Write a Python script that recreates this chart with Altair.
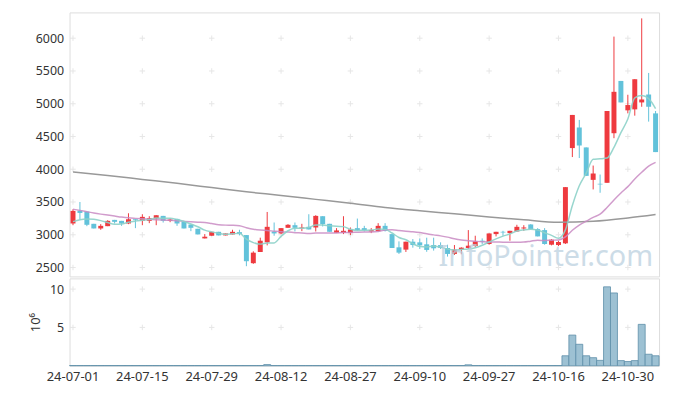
import altair as alt
import pandas as pd

# ---- trading days (Korea, 2024) ----
jul = [1, 2, 3, 4, 5, 8, 9, 10, 11, 12, 15, 16, 17, 18, 19, 22, 23, 24, 25, 26, 29, 30, 31]
aug = [1, 2, 5, 6, 7, 8, 9, 12, 13, 14, 16, 19, 20, 21, 22, 23, 26, 27, 28, 29, 30]
sep = [2, 3, 4, 5, 6, 9, 10, 11, 12, 13, 19, 20, 23, 24, 25, 26, 27, 30]
octo = [2, 4, 7, 8, 10, 11, 14, 15, 16, 17, 18, 21, 22, 23, 24, 25, 28, 29, 30, 31]
nov = [1, 4, 5]
dates = ([f"24-07-{d:02d}" for d in jul] + [f"24-08-{d:02d}" for d in aug]
         + [f"24-09-{d:02d}" for d in sep] + [f"24-10-{d:02d}" for d in octo]
         + [f"24-11-{d:02d}" for d in nov])
label_dates = ["24-07-01", "24-07-15", "24-07-29", "24-08-12", "24-08-27",
               "24-09-10", "24-09-27", "24-10-16", "24-10-30"]

opens = [3172, 3369, 3354, 3167, 3096, 3131, 3227, 3212, 3172, 3237,
         3212, 3212, 3247, 3288, 3212, 3242, 3202, 3156, 3091, 2944,
         2985, 3045, 2990, 3005, 3040, 2995, 2566, 2737, 2884, 3050,
         3020, 3106, 3146, 3096, 3121, 3111, 3283, 3167, 3030, 3030,
         3025, 3101, 3101, 3050, 3055, 3136, 3010, 2808, 2773, 2894,
         2884, 2854, 2843, 2843, 2798, 2707, 2773, 2798, 2828, 2909,
         2859, 3010, 3045, 3025, 3050, 3096, 3157, 3086, 3071, 2848,
         2843, 2869, 4323, 4636, 4333, 3838, 3778, 3793, 4550, 5348,
         4899, 4914, 5020, 5141, 4853]
highs = [3389, 3500, 3354, 3167, 3162, 3222, 3227, 3212, 3328, 3237,
         3313, 3283, 3298, 3288, 3252, 3242, 3202, 3156, 3091, 3010,
         3045, 3045, 3020, 3076, 3076, 2995, 2747, 2955, 3348, 3187,
         3101, 3162, 3187, 3167, 3313, 3298, 3283, 3167, 3101, 3283,
         3111, 3247, 3136, 3101, 3177, 3177, 3010, 2899, 2894, 2934,
         2944, 2955, 2955, 2884, 2848, 2843, 2808, 3071, 2985, 2944,
         3020, 3045, 3060, 3060, 3152, 3146, 3162, 3101, 3101, 2934,
         2909, 3727, 4829, 4753, 4333, 4056, 3919, 4889, 6025, 5348,
         5137, 5374, 6303, 5470, 4889]
lows = [3146, 3237, 3131, 3096, 3076, 3131, 3172, 3136, 3162, 3101,
        3146, 3177, 3146, 3187, 3192, 3136, 3096, 3055, 3005, 2944,
        2985, 2990, 2990, 3005, 2990, 2520, 2556, 2737, 2838, 2985,
        3010, 3106, 3050, 3055, 3081, 3050, 3126, 3045, 3030, 3010,
        2995, 3060, 3050, 3025, 3050, 3050, 2798, 2707, 2737, 2803,
        2783, 2740, 2758, 2783, 2667, 2692, 2702, 2783, 2808, 2859,
        2848, 2975, 2985, 2909, 3045, 3060, 3081, 2975, 2848, 2838,
        2828, 2859, 4186, 4171, 3899, 3692, 3641, 3793, 4474, 5020,
        4853, 4818, 4954, 4727, 4262]
closes = [3364, 3333, 3152, 3096, 3136, 3212, 3197, 3172, 3237, 3222,
          3273, 3252, 3298, 3212, 3232, 3172, 3096, 3106, 3005, 2970,
          3045, 2990, 3020, 3045, 3010, 2596, 2727, 2909, 3121, 3020,
          3101, 3152, 3106, 3111, 3081, 3288, 3162, 3045, 3066, 3060,
          3081, 3071, 3071, 3071, 3136, 3060, 2798, 2727, 2894, 2843,
          2838, 2768, 2793, 2798, 2707, 2773, 2803, 2833, 2899, 2894,
          3020, 3045, 3035, 3060, 3121, 3111, 3086, 2975, 2859, 2924,
          2889, 3727, 4829, 4364, 3899, 3935, 3768, 4889, 5182, 5020,
          4980, 5374, 5065, 4954, 4262]
ma5 = [3200, 3230, 3240, 3235, 3216, 3186, 3159, 3163, 3191, 3208,
       3220, 3231, 3256, 3251, 3253, 3233, 3202, 3164, 3122, 3070,
       3044, 3023, 3006, 3014, 3022, 2932, 2880, 2857, 2873, 2875,
       2976, 3061, 3100, 3098, 3110, 3148, 3150, 3137, 3128, 3124,
       3083, 3065, 3070, 3071, 3086, 3082, 3027, 2958, 2923, 2864,
       2820, 2814, 2827, 2808, 2781, 2768, 2775, 2783, 2803, 2840,
       2890, 2938, 2979, 3011, 3056, 3074, 3083, 3071, 3030, 2991,
       2947, 3075, 3446, 3747, 3942, 4151, 4159, 4171, 4335, 4559,
       4768, 5089, 5124, 5079, 4927]
ma20 = [3390, 3372, 3352, 3332, 3315, 3300, 3285, 3270, 3258, 3250,
        3243, 3237, 3230, 3225, 3220, 3213, 3205, 3198, 3192, 3187,
        3171, 3154, 3147, 3145, 3138, 3108, 3084, 3071, 3065, 3055,
        3046, 3041, 3032, 3027, 3019, 3025, 3028, 3025, 3028, 3033,
        3035, 3039, 3041, 3042, 3049, 3072, 3076, 3066, 3055, 3046,
        3033, 3014, 2998, 2983, 2964, 2938, 2920, 2910, 2901, 2893,
        2890, 2889, 2887, 2886, 2885, 2888, 2902, 2915, 2913, 2917,
        2920, 2968, 3069, 3148, 3207, 3265, 3314, 3416, 3531, 3637,
        3735, 3851, 3953, 4048, 4105]
ma_long_dates = ["24-07-01", "24-07-08", "24-07-15", "24-07-22", "24-07-29", "24-08-05",
                 "24-08-12", "24-08-20", "24-08-27", "24-09-03", "24-09-10", "24-09-20",
                 "24-09-27", "24-10-08", "24-10-16", "24-10-23", "24-10-30", "24-11-05"]
ma_long = [3960, 3905, 3845, 3785, 3720, 3655, 3600, 3540, 3480, 3415, 3365, 3320,
           3272, 3228, 3190, 3205, 3255, 3308]
volume_m = [0.03] * 28 + [0.15] + [0.03] * 28 + [0.12] + [0.03] * 13 + \
    [1.3, 4.0, 2.8, 1.3, 1.05, 0.7, 10.3, 9.5, 0.67, 0.55, 0.67, 5.4, 1.5, 1.3]
price_ticks = [2500, 3000, 3500, 4000, 4500, 5000, 5500, 6000]
vol_ticks = [5, 10]

RED = "#ee3a3f"
BLUE = "#62c2da"
FONT = "Noto Sans"
W = 594
EXT = 56

df = pd.DataFrame({"date": dates, "open": opens, "high": highs, "low": lows,
                   "close": closes, "ma5": ma5, "ma20": ma20, "vol": volume_m})
df["dir"] = ["up" if c >= o else "down" for o, c in zip(opens, closes)]
long_df = pd.DataFrame({"date": ma_long_dates, "v": ma_long})
cross_p = pd.DataFrame([(d, t) for d in label_dates for t in price_ticks], columns=["date", "v"])
cross_v = pd.DataFrame([(d, t) for d in label_dates for t in vol_ticks], columns=["date", "v"])
wm = pd.DataFrame({"t": ["InfoPointer.com"]})

xscale = alt.Scale(domain=dates, paddingInner=0, paddingOuter=0)
x_noaxis = alt.X("date:O", scale=xscale, axis=None)
pscale = alt.Scale(domain=[2364, 6394], nice=False, zero=False)
color = alt.Color("dir:N", scale=alt.Scale(domain=["up", "down"], range=[RED, BLUE]), legend=None)
plus = "M-1,0L1,0M0,-1L0,1"

py_axis = alt.Axis(values=price_ticks, format="d", grid=False, ticks=False, domain=False,
                   labelPadding=6, labelFont=FONT, labelFontSize=12.5, labelColor="#333",
                   labelOverlap=False, title=None, minExtent=EXT, maxExtent=EXT)

crosses = alt.Chart(cross_p).mark_point(shape=plus, size=30, color="#dddddd",
                                        strokeWidth=1, filled=False).encode(
    x=x_noaxis, y=alt.Y("v:Q", scale=pscale, axis=py_axis))

base = alt.Chart(df)
wick = base.mark_rule(strokeWidth=1).encode(
    x=x_noaxis, y=alt.Y("low:Q", scale=pscale, axis=py_axis), y2="high:Q", color=color)
body = base.mark_bar(size=5).encode(
    x=x_noaxis, y=alt.Y("open:Q", scale=pscale, axis=py_axis), y2="close:Q", color=color)
l5 = base.mark_line(color="#8dd2c9", strokeWidth=1.5, opacity=0.9, interpolate="monotone").encode(
    x=x_noaxis, y=alt.Y("ma5:Q", scale=pscale, axis=py_axis))
l20 = base.mark_line(color="#c98bc3", strokeWidth=1.5, opacity=0.85, interpolate="monotone").encode(
    x=x_noaxis, y=alt.Y("ma20:Q", scale=pscale, axis=py_axis))
llong = alt.Chart(long_df).mark_line(color="#999999", strokeWidth=1.5, interpolate="monotone").encode(
    x=x_noaxis, y=alt.Y("v:Q", scale=pscale, axis=py_axis))
water = alt.Chart(wm).mark_text(font=FONT, fontSize=29, align="right", baseline="alphabetic",
                                color="#bcd1df", opacity=0.75).encode(
    text="t:N", x=alt.value(588), y=alt.value(256))

price = alt.layer(crosses, wick, body, llong, l20, l5, water).properties(width=W, height=266)

vscale = alt.Scale(domain=[0, 11.4], nice=False)
vy_axis = alt.Axis(values=vol_ticks, grid=False, ticks=False, domain=False, labelPadding=6,
                   labelFont=FONT, labelFontSize=12.5, labelColor="#333", labelOverlap=False,
                   title="10⁶", titleFont=FONT, titleFontSize=13, titleFontWeight="normal",
                   titleColor="#333", titleX=-34, titleY=44, titleAngle=270,
                   titleAlign="center", titleBaseline="middle",
                   minExtent=EXT, maxExtent=EXT)
x_axis = alt.Axis(values=label_dates, labelAngle=0, ticks=False, domain=False, grid=False,
                  labelFont=FONT, labelFontSize=13, labelColor="#333", labelPadding=5,
                  title=None, labelOverlap=False)
vcross = alt.Chart(cross_v).mark_point(shape=plus, size=30, color="#dddddd",
                                       strokeWidth=1, filled=False).encode(
    x=alt.X("date:O", scale=xscale, axis=x_axis), y=alt.Y("v:Q", scale=vscale, axis=vy_axis))
vbars = base.mark_bar(size=7, color="#9dc1d3", stroke="#5e8fa9", strokeWidth=0.8).encode(
    x=alt.X("date:O", scale=xscale, axis=x_axis), y=alt.Y("vol:Q", scale=vscale, axis=vy_axis))
volume = alt.layer(vcross, vbars).properties(width=W, height=88)

chart = alt.vconcat(price, volume, spacing=0).properties(
    padding={"left": 5, "top": 2, "right": 5, "bottom": 5},
).configure_view(stroke="#e4e4e4").configure_axis(labelOverlap=False).configure(background="white")

chart.save("out.html", embed_options={"renderer": "svg", "actions": False})
